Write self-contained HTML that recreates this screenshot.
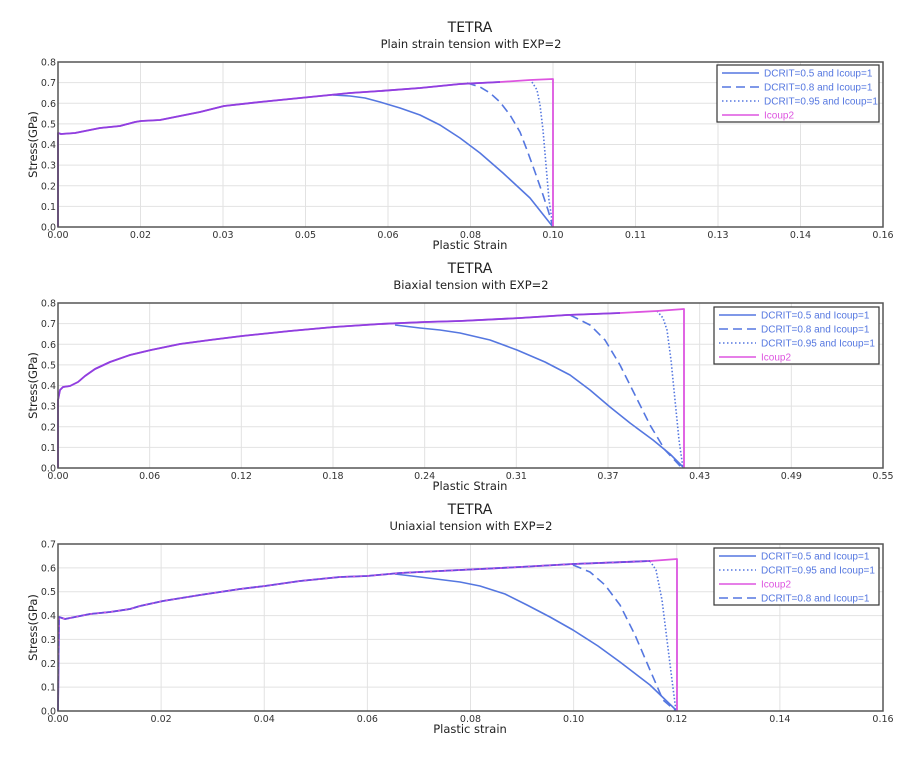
<!DOCTYPE html>
<html><head><meta charset="utf-8"><style>
body{margin:0;background:#fff}
svg{display:block;font-family:"DejaVu Sans","Liberation Sans",sans-serif}
.t{font-size:9.5px;fill:#333}
.g{stroke:#e2e2e2;stroke-width:1}
.ax{fill:none;stroke:#555;stroke-width:1.5}
.lg{font-size:10px;font-family:"Liberation Sans",sans-serif}
</style></head><body>
<svg width="918" height="757" viewBox="0 0 918 757">
<g id="root"></g>
</svg>
<script>
const NS="http://www.w3.org/2000/svg";const root=document.getElementById('root');
function el(t,a,txt){const e=document.createElementNS(NS,t);for(const k in a)e.setAttribute(k,a[k]);if(txt!==undefined)e.textContent=txt;root.appendChild(e);return e;}
const B="#5577e0",M="#dd55e0",P="#8e40e0";
function pl(pts,col,dash,w){el('polyline',{points:pts.map(p=>p.join(',')).join(' '),fill:'none',stroke:col,'stroke-width':w||1.6,'stroke-dasharray':dash||'none','stroke-linejoin':'round'});}
function chart(o){
 const {top,bot,xl,ny,ymax,title,sub,xt,xlab}=o;const x0=58,x1=883;
 el('text',{x:470,y:top-30,'text-anchor':'middle','font-size':14,fill:'#222'},'TETRA');
 el('text',{x:471,y:top-14,'text-anchor':'middle','font-size':11.5,fill:'#222'},sub);
 const nx=xl.length-1;
 for(let i=0;i<=nx;i++){const x=x0+(x1-x0)*i/nx;el('line',{x1:x,y1:top,x2:x,y2:bot,class:'g'});el('text',{x:x,y:bot+11,'text-anchor':'middle',class:'t'},xl[i]);}
 for(let j=0;j<=ny;j++){const y=bot-(bot-top)*j/ny;el('line',{x1:x0,y1:y,x2:x1,y2:y,class:'g'});el('text',{x:x0-2,y:y+3.5,'text-anchor':'end',class:'t'},(j*ymax/ny).toFixed(1));}
 el('text',{x:470,y:bot+22,'text-anchor':'middle','font-size':11.5,fill:'#222'},xlab);
 el('text',{x:0,y:0,'text-anchor':'middle','font-size':11.5,fill:'#222',transform:`translate(37,${(top+bot)/2}) rotate(-90)`},'Stress(GPa)');
 o.draw();
 el('rect',{x:x0,y:top,width:x1-x0,height:bot-top,class:'ax'});
 const L=o.leg;const ly=o.ly;
 el('rect',{x:o.lx,y:ly,width:879-o.lx,height:57,fill:'#fff',stroke:'#333','stroke-width':1.2});
 L.forEach((it,i)=>{const y=ly+8+i*14;
  el('line',{x1:o.lx+5,y1:y,x2:o.lx+42,y2:y,stroke:it[1],'stroke-width':1.6,'stroke-dasharray':it[2]||'none'});
  el('text',{x:o.lx+47,y:y+3.5,class:'lg',style:'fill:'+it[1]},it[0]);});
}
const leg1=[["DCRIT=0.5 and Icoup=1",B],["DCRIT=0.8 and Icoup=1",B,"9,5"],["DCRIT=0.95 and Icoup=1",B,"1.5,2.5"],["Icoup2",M]];
chart({top:62,bot:227,ny:8,ymax:0.8,sub:'Plain strain tension with EXP=2',xlab:'Plastic Strain',
 xl:['0.00','0.02','0.03','0.05','0.06','0.08','0.10','0.11','0.13','0.14','0.16'],lx:717,ly:65,leg:leg1,
 draw(){
  pl([[333,95],[350,96],[365,98],[380,102],[400,108],[420,115],[440,125],[460,138],[480,153],[503,173],[530,198],[553,227]],B);
  pl([[467,83],[480,87],[490,93],[500,102],[510,115],[520,132],[527,150],[535,172],[542,192],[548,210],[553,227]],B,"9,5");
  pl([[532,82],[537,90],[540,105],[543,130],[546,165],[549,200],[553,227]],B,"1.5,2");
  const m=[[58,227],[58,133],[61,134],[75,133],[90,130],[100,128],[120,126],[135,122],[141,121],[160,120],[180,116],[200,112],[224,106],[260,102],[300,98],[330,95],[350,93],[380,91],[420,88],[460,84],[500,82],[530,80],[553,79]];
  pl(m.concat([[553,227]]),M,null,1.8);
  pl(m.slice(0,-2),P,null,1.8);
 }});
chart({top:303,bot:468,ny:8,ymax:0.8,sub:'Biaxial tension with EXP=2',xlab:'Plastic Strain',
 xl:['0.00','0.06','0.12','0.18','0.24','0.31','0.37','0.43','0.49','0.55'],lx:714,ly:307,leg:leg1,
 draw(){
  pl([[395,325],[420,328],[440,330],[460,333],[490,340],[517,350],[545,362],[570,375],[590,390],[610,407],[630,423],[653,440],[670,454],[684,468]],B);
  pl([[570,315],[590,325],[605,340],[620,365],[635,395],[650,425],[665,450],[682,468]],B,"9,5");
  pl([[657,311],[663,318],[667,330],[671,360],[675,400],[679,440],[683,468]],B,"1.5,2");
  const m=[[58,468],[58,400],[60,390],[63,387],[70,386],[78,382],[85,376],[95,369],[110,362],[130,355],[151,350],[180,344],[210,340],[242,336],[290,331],[334,327],[380,324],[425,322],[460,321],[520,318],[567,315],[620,313],[657,311],[684,309]];
  pl(m.concat([[684,468]]),M,null,1.8);
  pl(m.slice(0,-2),P,null,1.8);
 }});
chart({top:544,bot:711,ny:7,ymax:0.7,sub:'Uniaxial tension with EXP=2',xlab:'Plastic strain',
 xl:['0.00','0.02','0.04','0.06','0.08','0.10','0.12','0.14','0.16'],lx:714,ly:548,
 leg:[["DCRIT=0.5 and Icoup=1",B],["DCRIT=0.95 and Icoup=1",B,"1.5,2.5"],["Icoup2",M],["DCRIT=0.8 and Icoup=1",B,"9,5"]],
 draw(){
  pl([[395,574],[420,577],[460,582],[480,586],[505,594],[527,605],[550,617],[573,630],[598,646],[620,662],[650,685],[677,711]],B);
  pl([[573,565],[590,572],[605,585],[620,605],[635,635],[650,670],[663,700],[676,711]],B,"9,5");
  pl([[650,561],[656,570],[662,600],[667,640],[672,680],[676,711]],B,"1.5,2");
  const m=[[58,711],[59,617],[62,618],[65,619],[75,617],[90,614],[110,612],[130,609],[140,606],[163,601],[200,595],[240,589],[265,586],[300,581],[340,577],[367,576],[400,573],[460,570],[520,567],[573,564],[650,561],[677,559]];
  pl(m.concat([[677,711]]),M,null,1.8);
  pl(m.slice(0,-1),"#6a4ce0",null,1.8);
  pl(m.slice(0,-1),M,"2,5",1);
 }});
</script>
</body></html>
